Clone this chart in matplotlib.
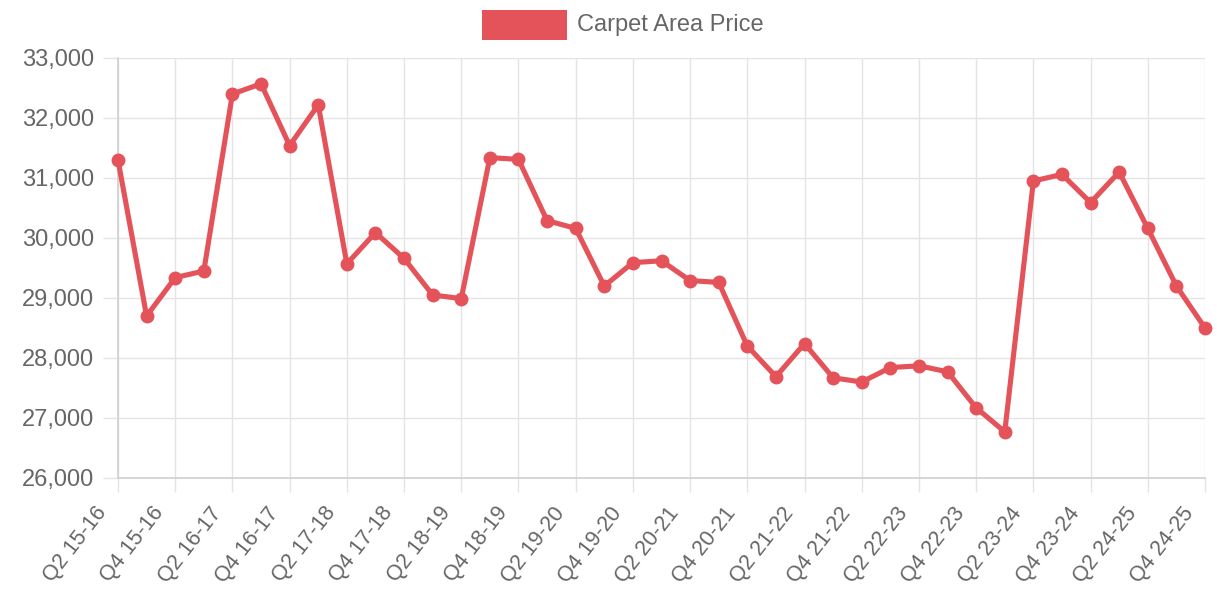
import matplotlib.pyplot as plt
from matplotlib.patches import Rectangle
from matplotlib.ticker import FuncFormatter
from matplotlib.transforms import ScaledTranslation

quarters = []
for y in range(15, 25):
    for q in ['Q1', 'Q2', 'Q3', 'Q4']:
        quarters.append(f'{q} {y}-{y + 1}')
quarters = quarters[1:]  # series starts at Q2 15-16

carpet_price = [31300, 28700, 29340, 29450, 32400, 32570, 31540, 32220,
                29570, 30090, 29660, 29050, 28990, 31340, 31310, 30290,
                30160, 29200, 29590, 29620, 29290, 29260, 28200, 27690,
                28240, 27670, 27600, 27840, 27870, 27770, 27170, 26770,
                30950, 31060, 30590, 31100, 30160, 29200, 28500]

y_ticks = [26000, 27000, 28000, 29000, 30000, 31000, 32000, 33000]

red = '#e5535a'
grid_c = '#e4e4e4'
text_c = '#666666'

plt.rcParams['font.family'] = ['Liberation Sans', 'DejaVu Sans']

fig = plt.figure(figsize=(12.17, 6.01), dpi=100)
ax = fig.add_axes([118 / 1217, 1 - 478 / 601, (1205 - 118) / 1217, (478 - 58) / 601])

x = list(range(len(quarters)))
ax.plot(x, carpet_price, color=red, lw=3.7, marker='o', ms=9,
        clip_on=False, zorder=3)

ax.set_xlim(0, len(quarters) - 1)
ax.set_ylim(y_ticks[0], y_ticks[-1])
ax.set_yticks(y_ticks)
ax.yaxis.set_major_formatter(FuncFormatter(lambda v, p: f'{int(v):,}'))
ax.set_xticks(x[::2])
ax.set_xticklabels(quarters[::2], rotation=52, ha='right', va='center',
                   rotation_mode='anchor')

ax.grid(True, color=grid_c, lw=1)
ax.set_axisbelow(True)
for side in ['top', 'right']:
    ax.spines[side].set_visible(False)
for side in ['left', 'bottom']:
    ax.spines[side].set_color('#d0d0d0')
    ax.spines[side].set_linewidth(1.2)

ax.tick_params(axis='y', length=11, width=1, color=grid_c, labelsize=17,
               labelcolor=text_c, pad=6)
ax.tick_params(axis='x', length=10, width=1, color=grid_c, labelsize=15.5,
               labelcolor=text_c, pad=4)

# shift x labels so their ends sit left of and below the ticks
shift = ScaledTranslation(-0.15, -0.12, fig.dpi_scale_trans)
for lab in ax.get_xticklabels():
    lab.set_transform(lab.get_transform() + shift)

# legend
fig.add_artist(Rectangle((482 / 1217, 1 - 40 / 601), 85 / 1217, 30 / 601,
                         transform=fig.transFigure, facecolor=red, edgecolor='none'))
fig.text(577 / 1217, 1 - 25 / 601, 'Carpet Area Price', fontsize=17,
         color=text_c, va='center', ha='left')

fig.savefig('out.png', dpi=100)
